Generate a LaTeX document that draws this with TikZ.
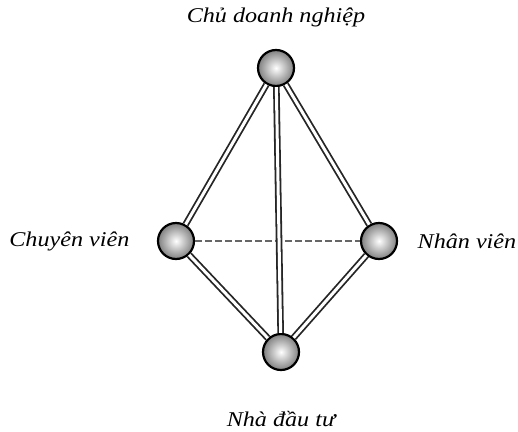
\documentclass[tikz,border=0pt]{standalone}
\usepackage{fontspec}
\setmainfont[FakeStretch=1.15]{Liberation Serif}
\usepackage{tikz}
\usetikzlibrary{positioning}

\begin{document}
\begin{tikzpicture}[x=1pt,y=-1pt,font=\fontsize{21}{23}\selectfont\itshape,
  ball/.style={circle,minimum size=36pt,inner sep=0pt,draw=black,line width=2.2pt,
    shading=radial,inner color=white,outer color=black!50},
  link/.style={draw=black!85,line width=1.8pt,double=white,double distance=3pt}]
  \useasboundingbox (0,0) rectangle (518,431);
  \node[ball] (chu) at (276,68) {};
  \node[ball] (chuyen) at (176,241) {};
  \node[ball] (nhan) at (379,241) {};
  \node[ball] (dautu) at (281,352) {};
  \node[above=18pt of chu] {Chủ doanh nghiệp};
  \node[left=24pt of chuyen] {Chuyên viên};
  \node[right=16pt of nhan] {Nhân viên};
  \node[below=37pt of dautu] {Nhà đầu tư};
  \draw[black!60,line width=2pt,dash pattern=on 7pt off 3pt] (chuyen) -- (nhan);
  \foreach \a/\b in {chu/chuyen,chu/nhan,chu/dautu,chuyen/dautu,nhan/dautu}{\draw[link] (\a) -- (\b);}
\end{tikzpicture}
\end{document}
